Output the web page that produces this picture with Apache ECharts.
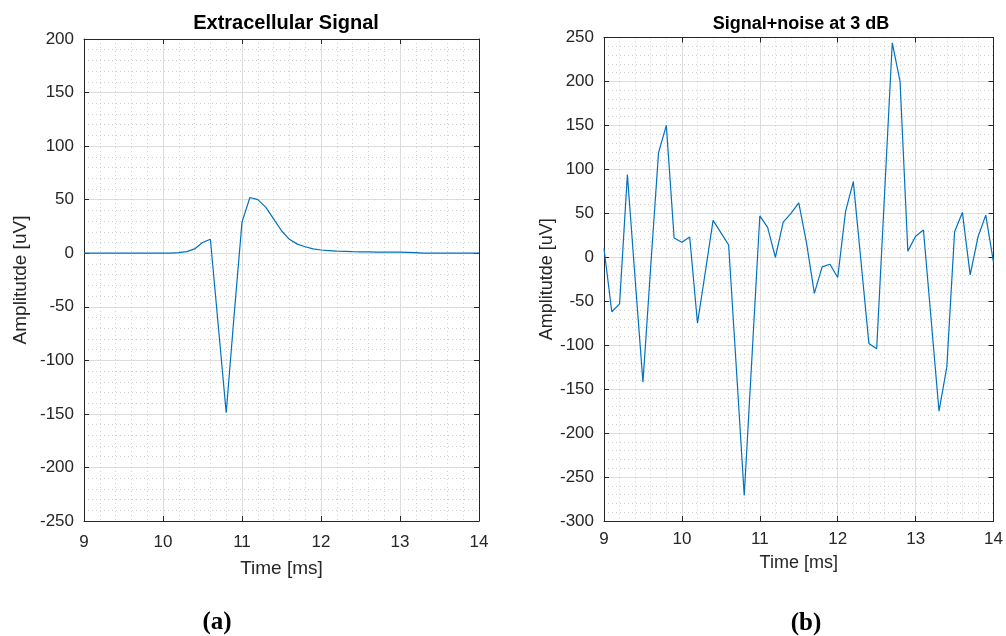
<!DOCTYPE html>
<html>
<head>
<meta charset="utf-8">
<script src="https://cdn.jsdelivr.net/npm/echarts@6/dist/echarts.min.js"></script>
<style>
html,body{margin:0;padding:0;background:#fff;}
#chart{width:1006px;height:636px;}
</style>
</head>
<body>
<div id="chart"></div>
<script>
// ---- data ----
const timeMs = [9.0,9.1,9.2,9.3,9.4,9.5,9.6,9.7,9.8,9.9,
  10.0,10.1,10.2,10.3,10.4,10.5,10.6,10.7,10.8,10.9,
  11.0,11.1,11.2,11.3,11.4,11.5,11.6,11.7,11.8,11.9,
  12.0,12.1,12.2,12.3,12.4,12.5,12.6,12.7,12.8,12.9,
  13.0,13.1,13.2,13.3,13.4,13.5,13.6,13.7,13.8,13.9,14.0];
const extracellular = [0,0,0,0,0,0,0,0,0,0,
  0,0,0.5,1.5,4,10,13,-68,-149,-58,
  29,52,50,43,32,21,13,8.5,6,4,
  3,2.5,2,1.8,1.5,1.3,1.2,1,1,1,
  1,0.8,0.5,0,0,0,0,0,0,0,0];
const noisy = [10,-62,-53,94,-25,-142,-10,119,150,22,
  17,23,-75,-17,42,28,14,-128,-271,-112,
  47,34,0,40,50,62,16,-41,-11,-8,
  -23,52,86,-6,-98,-104,70,244,200,7,
  24,31,-72,-175,-125,29,51,-20,23,48,-6];
const xTicks = [9,10,11,12,13,14];
const yTicksA = [-250,-200,-150,-100,-50,0,50,100,150,200];
const yTicksB = [-300,-250,-200,-150,-100,-50,0,50,100,150,200,250];
const titles = ['Extracellular Signal', 'Signal+noise at 3 dB'];
const panelLabels = ['a', 'b'];

// ---- styling ----
const FONT = '"Liberation Sans", Arial, Helvetica, sans-serif';
const AX = '#262626';
const grids = [
  {left:84, top:39, width:395, height:482},
  {left:604, top:37.5, width:394, height:483.5}
];

function mainX(gi, fs, margin, nameGap, nameSize){
  return {
    type:'value', gridIndex:gi, position:'bottom',
    min:xTicks[0], max:xTicks[xTicks.length-1], interval:1,
    name:'Time [ms]', nameLocation:'middle', nameGap:nameGap,
    nameTextStyle:{fontFamily:FONT, fontSize:nameSize, color:AX},
    axisLine:{show:true, onZero:false, lineStyle:{color:AX, width:1}},
    axisTick:{show:true, inside:true, length:5, lineStyle:{color:AX}},
    axisLabel:{fontFamily:FONT, fontSize:fs, color:AX, margin:margin},
    splitLine:{show:true, lineStyle:{color:'#dcdcdc', width:1}},
    minorTick:{show:false, splitNumber:5},
    minorSplitLine:{show:true, lineStyle:{color:'#cfcfcf', width:1, type:[1,3]}}
  };
}
function mainY(gi, ticks, fs, nameGap, nameSize){
  return {
    type:'value', gridIndex:gi, position:'left',
    min:ticks[0], max:ticks[ticks.length-1], interval:50,
    name:'Amplitutde [uV]', nameLocation:'middle', nameGap:nameGap,
    nameTextStyle:{fontFamily:FONT, fontSize:nameSize, color:AX},
    axisLine:{show:true, onZero:false, lineStyle:{color:AX, width:1}},
    axisTick:{show:true, inside:true, length:5, lineStyle:{color:AX}},
    axisLabel:{fontFamily:FONT, fontSize:fs, color:AX, margin:10},
    splitLine:{show:true, lineStyle:{color:'#dcdcdc', width:1}},
    minorTick:{show:false, splitNumber:5},
    minorSplitLine:{show:true, lineStyle:{color:'#cfcfcf', width:1, type:[1,3]}}
  };
}
function boxX(gi){
  return {type:'value', gridIndex:gi, position:'top',
    min:xTicks[0], max:xTicks[xTicks.length-1], interval:1,
    axisLine:{show:true, onZero:false, lineStyle:{color:AX, width:1}},
    axisTick:{show:true, inside:true, length:5, lineStyle:{color:AX}},
    axisLabel:{show:false}, splitLine:{show:false}};
}
function boxY(gi, ticks){
  return {type:'value', gridIndex:gi, position:'right',
    min:ticks[0], max:ticks[ticks.length-1], interval:50,
    axisLine:{show:true, onZero:false, lineStyle:{color:AX, width:1}},
    axisTick:{show:true, inside:true, length:5, lineStyle:{color:AX}},
    axisLabel:{show:false}, splitLine:{show:false}};
}

const serif = '"Liberation Serif", "DejaVu Serif", serif';
const chart = echarts.init(document.getElementById('chart'), null, {renderer:'canvas'});
chart.setOption({
  animation:false,
  backgroundColor:'#ffffff',
  title:[
    {text:titles[0], left:281, top:8, textAlign:'center',
      textStyle:{fontFamily:FONT, fontSize:20, fontWeight:'bold', color:'#000'}},
    {text:titles[1], left:796, top:10, textAlign:'center',
      textStyle:{fontFamily:FONT, fontSize:18, fontWeight:'bold', color:'#000'}},
    {text:'{p|(}{b|'+panelLabels[0]+'}{p|)}', left:212, top:605, textAlign:'center',
      textStyle:{rich:{
        p:{fontFamily:serif, fontSize:25, color:'#000'},
        b:{fontFamily:serif, fontSize:25, fontWeight:'bold', color:'#000'}}}},
    {text:'{p|(}{b|'+panelLabels[1]+'}{p|)}', left:801, top:606, textAlign:'center',
      textStyle:{rich:{
        p:{fontFamily:serif, fontSize:25, color:'#000'},
        b:{fontFamily:serif, fontSize:25, fontWeight:'bold', color:'#000'}}}}
  ],
  grid:grids,
  xAxis:[mainX(0,17,13,38,19), mainX(1,17,10,33,18), boxX(0), boxX(1)],
  yAxis:[mainY(0,yTicksA,17,54,19), mainY(1,yTicksB,17,45,18), boxY(0,yTicksA), boxY(1,yTicksB)],
  series:[
    {type:'line', xAxisIndex:0, yAxisIndex:0, showSymbol:false, symbol:'none',
      lineStyle:{color:'#0072BD', width:1.2},
      data:timeMs.map((t,i)=>[t, extracellular[i]])},
    {type:'line', xAxisIndex:1, yAxisIndex:1, showSymbol:false, symbol:'none',
      lineStyle:{color:'#0072BD', width:1.2},
      data:timeMs.map((t,i)=>[t, noisy[i]])}
  ]
});
</script>
</body>
</html>
